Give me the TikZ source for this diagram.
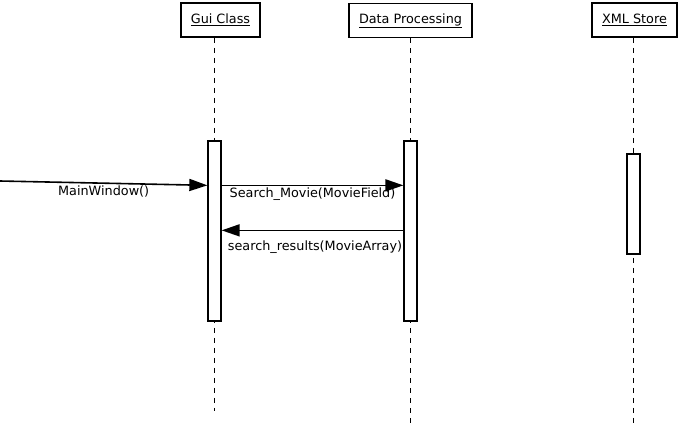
\documentclass[tikz,border=0pt]{standalone}
\usepackage{fontspec}
\setmainfont{DejaVu Sans}
\usepackage{tikz}
\usetikzlibrary{arrows.meta,backgrounds,calc,positioning}

\tikzset{
  object/.style={draw, line width=1.6pt, minimum height=34pt, inner sep=0pt, font=\fontsize{12.8}{15}\selectfont},
  activation/.style={draw, line width=1.3pt, fill=white, minimum width=13pt, inner sep=0pt},
  lifeline/.style={line width=0.6pt, dash pattern=on 5pt off 5pt},
  message/.style={line width=1.6pt, -{Triangle[length=18pt,width=12pt]}},
  msglabel/.style={font=\fontsize{12.8}{15}\selectfont, inner sep=0pt}
}

\begin{document}
\begin{tikzpicture}[x=1pt,y=-1pt]
\useasboundingbox (0,0) rectangle (679,424);
% objects
\node[object, minimum width=79pt] (gui) at (220.5,20) {\underline{Gui Class}};
\node[object, minimum width=123pt] (dp) at (410.5,20.5) {\underline{Data Processing}};
\node[object, minimum width=85pt] (xml) at (634.5,20) {\underline{XML Store}};
% activations
\node[activation, minimum height=180pt] (guiact) at (214.5,231) {};
\node[activation, minimum height=180pt] (dpact) at (410.5,231) {};
\node[activation, minimum height=100pt] (xmlact) at (633.5,204) {};
% lifelines
\begin{scope}[on background layer]
\draw[lifeline] (guiact |- gui.south) -- ($(guiact.south)+(0,89)$);
\draw[lifeline] (dpact |- dp.south) -- ($(dpact.south)+(0,101)$);
\draw[lifeline] (xmlact |- xml.south) -- ($(xmlact.south)+(0,168)$);
\end{scope}
% messages
\coordinate (mwstart) at (0,181);
\draw[message] (mwstart) -- ($(guiact.north west)+(0,45)$)
  node[msglabel, midway, below=1.5pt] (mwlabel) {MainWindow()};
\draw[message] ($(guiact.north east)+(0,45)$) -- ($(dpact.north west)+(0,45)$)
  node[msglabel, midway, below=1.5pt] (smlabel) {Search\_Movie(MovieField)};
\draw[message] ($(dpact.north west)+(0,90)$) -- ($(guiact.north east)+(0,90)$)
  node[msglabel, midway, below=10pt, xshift=2.5pt] (srlabel) {search\_results(MovieArray)};
\end{tikzpicture}
\end{document}
